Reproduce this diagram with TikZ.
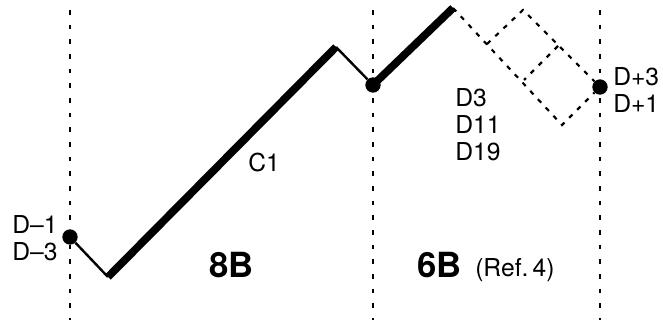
\documentclass[tikz,border=0pt]{standalone}
\usepackage{fontspec}
\setmainfont{TeX Gyre Heros}
\begin{document}
\begin{tikzpicture}[
      x=0.75pt, y=-0.75pt,
      grid/.style={dash pattern=on 3.5pt off 7.5pt, line width=0.9pt},
      route/.style={line width=5.8pt},
      link/.style={line width=1.8pt},
      alt/.style={dash pattern=on 3.5pt off 5pt, line width=1.6pt},
      dot/.style={circle, fill, inner sep=0pt, minimum size=11.5pt},
      lbl/.style={align=left, anchor=north west, inner sep=0pt, font=\fontsize{18.5}{20.2}\selectfont},
      zone/.style={anchor=base west, inner sep=0pt, font=\fontsize{26}{28}\selectfont\bfseries}
    ]
      \useasboundingbox (0,0) rectangle (663,320);
      % section limits
      \draw[grid] (70,10) -- (70,320);
      \draw[grid] (373,10) -- (373,320);
      \draw[grid] (600,10) -- (600,320);

      \node[dot] (DL) at (70,237) {};
      \node[dot] (DM) at (373,85) {};
      \node[dot] (DR) at (600,87) {};
      \coordinate (low) at (108,277);
      \coordinate (peak) at (336,47);
      \coordinate (top) at (453,8);
      \coordinate (bend) at (562,125);
      \coordinate (fork) at (487,44);
      \coordinate (crest) at (523,10);
      \coordinate (ua) at (558,46);
      \coordinate (ub) at (524,80);

      \draw[link] (DL) -- (low);
      \draw[route] (low) -- (peak);
      \draw[link] (peak) -- (DM);
      \draw[route] (DM.center) -- (top);
      \draw[alt] (top) -- (bend) -- (DR);
      \draw[alt] (fork) -- (crest) -- (DR);
      \draw[alt] (ua) -- (ub);

      \node[lbl] (dneg) at (12,215) {D–1\\D–3};
      \node[lbl] (cone) at (248,153) {C1};
      \node[lbl] (dmid) at (455,88) {D3\\D11\\D19};
      \node[lbl] (dpos) at (613,67) {D+3\\D+1};
      \node[zone] (eightb) at (209,277) {8B};
      \node[zone] (sixb) at (417,277) {6B};
      \node[anchor=base west, inner sep=0pt, font=\fontsize{18.5}{20}\selectfont] (ref) at (475,276) {(Ref.\,4)};
    \end{tikzpicture}
\end{document}
